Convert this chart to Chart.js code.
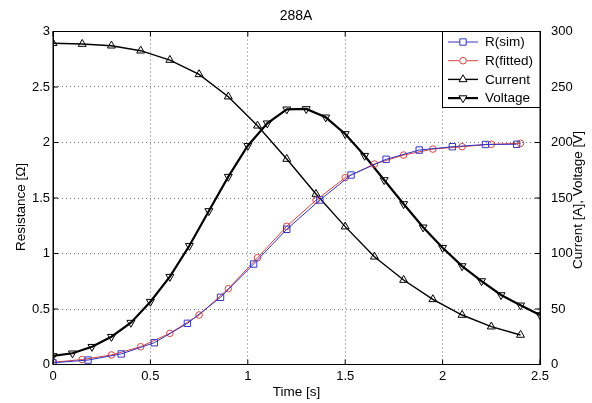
<!DOCTYPE html>
<html>
<head>
<meta charset="utf-8">
<script src="https://cdn.jsdelivr.net/npm/chart.js@4.4.1/dist/chart.umd.min.js"></script>
<style>
  html, body { margin: 0; padding: 0; background: #fff; }
  #wrap { width: 592px; height: 403px; position: relative; }
</style>
</head>
<body>
<div id="wrap"><canvas id="chart" width="592" height="403"></canvas></div>
<script>
// values
const simTime = [0, 0.18, 0.35, 0.52, 0.69, 0.86, 1.03, 1.2, 1.37, 1.53, 1.71, 1.88, 2.05, 2.22, 2.38];
const simR = [0.015, 0.04, 0.095, 0.196, 0.371, 0.605, 0.905, 1.218, 1.482, 1.707, 1.849, 1.932, 1.962, 1.982, 1.984];

const fitTime = [0, 0.15, 0.3, 0.45, 0.6, 0.75, 0.9, 1.05, 1.2, 1.35, 1.5, 1.65, 1.8, 1.95, 2.1, 2.25, 2.4];
const fitR = [0.02, 0.045, 0.086, 0.16, 0.281, 0.446, 0.683, 0.962, 1.245, 1.48, 1.683, 1.806, 1.887, 1.941, 1.962, 1.984, 1.993];

const curTime = [0, 0.15, 0.3, 0.45, 0.6, 0.75, 0.9, 1.05, 1.2, 1.35, 1.5, 1.65, 1.8, 1.95, 2.1, 2.25, 2.4];
const current = [289.4, 288.7, 287.2, 282.7, 274.3, 261.4, 241.3, 215.1, 185.1, 153.6, 124.2, 97.1, 76.1, 58.7, 44.6, 34.1, 26.6];

const voltTime = [0, 0.1, 0.2, 0.3, 0.4, 0.5, 0.6, 0.7, 0.8, 0.9, 1.0, 1.1, 1.2, 1.3, 1.4, 1.5, 1.6, 1.7, 1.8, 1.9, 2.0, 2.1, 2.2, 2.3, 2.4, 2.5];
const voltage = [7.7, 10.1, 16, 25, 37.7, 56.6, 79.1, 107, 138.3, 169.2, 197.1, 217.3, 229.9, 230.2, 222.7, 207.7, 188.1, 166.2, 144.6, 123.6, 105.2, 88.7, 75.2, 62.6, 53.3, 44.6];

const xTicks = [0, 0.5, 1, 1.5, 2, 2.5];
const rTicks = [0, 0.5, 1, 1.5, 2, 2.5, 3];
const ivTicks = [0, 50, 100, 150, 200, 250, 300];

const FONT = "'Liberation Sans', Arial, sans-serif";
const BLUE = '#3535c0';
const RED = '#d54545';
const LEFT_TITLE = 'Resistance [Ω]';
const RIGHT_TITLE = 'Current [A], Voltage [V]';

const pts = (xs, ys) => xs.map((x, i) => ({ x: x, y: ys[i] }));

const seriesStyle = [
  { label: 'R(sim)', color: BLUE, style: 'rect', radius: 4.5, rot: 0, width: 1 },
  { label: 'R(fitted)', color: RED, style: 'circle', radius: 3.3, rot: 0, width: 1 },
  { label: 'Current', color: '#000', style: 'triangle', radius: 4.6, rot: 0, width: 1.4 },
  { label: 'Voltage', color: '#000', style: 'triangle', radius: 4.6, rot: 180, width: 2.2 }
];

function ds(i, data, axis) {
  const s = seriesStyle[i];
  return {
    label: s.label,
    data: data,
    yAxisID: axis,
    borderColor: s.color,
    backgroundColor: '#fff',
    borderWidth: s.width,
    pointStyle: s.style,
    pointRadius: s.radius,
    pointRotation: s.rot,
    pointBorderColor: s.color,
    pointBackgroundColor: 'rgba(255,255,255,0)',
    pointBorderWidth: 1,
    tension: 0,
    fill: false
  };
}

function vText(ctx, text, x, y) {
  ctx.save();
  ctx.translate(x, y);
  ctx.rotate(-Math.PI / 2);
  ctx.font = '13.5px ' + FONT;
  ctx.fillStyle = '#000';
  ctx.textAlign = 'center';
  ctx.textBaseline = 'middle';
  ctx.fillText(text, 0, 0);
  ctx.restore();
}

// box around the plot, inward tick marks, y titles and the legend
const boxPlugin = {
  id: 'box',
  afterDatasetsDraw(chart) {
    const { ctx, chartArea: a, scales } = chart;
    ctx.save();
    ctx.strokeStyle = '#000';
    ctx.lineWidth = 1;
    ctx.strokeRect(a.left, a.top, a.right - a.left, a.bottom - a.top);
    ctx.beginPath();
    xTicks.forEach(v => {
      const px = scales.x.getPixelForValue(v);
      ctx.moveTo(px, a.bottom); ctx.lineTo(px, a.bottom - 5);
      ctx.moveTo(px, a.top); ctx.lineTo(px, a.top + 5);
    });
    rTicks.forEach(v => {
      const py = scales.y.getPixelForValue(v);
      ctx.moveTo(a.left, py); ctx.lineTo(a.left + 5, py);
    });
    ivTicks.forEach(v => {
      const py = scales.y1.getPixelForValue(v);
      ctx.moveTo(a.right, py); ctx.lineTo(a.right - 5, py);
    });
    ctx.stroke();

    // both y titles read bottom to top
    vText(ctx, LEFT_TITLE, 21, 207);
    vText(ctx, RIGHT_TITLE, 578, 200);

    // legend
    const bx = 442.5, by = a.top, bw = a.right - 442.5, bh = 76;
    ctx.fillStyle = '#fff';
    ctx.fillRect(bx, by, bw, bh);
    ctx.strokeRect(bx, by, bw, bh);
    ctx.font = '13.5px ' + FONT;
    ctx.textBaseline = 'middle';
    ctx.textAlign = 'left';
    seriesStyle.forEach((s, i) => {
      const y = by + 10.5 + i * 18.7;
      ctx.strokeStyle = s.color;
      ctx.lineWidth = s.width;
      ctx.beginPath();
      ctx.moveTo(448, y); ctx.lineTo(478, y);
      ctx.stroke();
      ctx.fillStyle = '#fff';
      ctx.lineWidth = 1;
      Chart.helpers.drawPoint(ctx, { pointStyle: s.style, radius: s.radius, rotation: s.rot, borderWidth: 1 }, 463, y);
      ctx.fillStyle = '#000';
      ctx.fillText(s.label, 485, y + 0.5);
    });
    ctx.restore();
  }
};

new Chart(document.getElementById('chart'), {
  type: 'line',
  data: {
    datasets: [
      ds(0, pts(simTime, simR), 'y'),
      ds(1, pts(fitTime, fitR), 'y'),
      ds(2, pts(curTime, current), 'y1'),
      ds(3, pts(voltTime, voltage), 'y1')
    ]
  },
  options: {
    responsive: false,
    animation: false,
    devicePixelRatio: 1,
    layout: { padding: 0 },
    plugins: {
      legend: { display: false },
      tooltip: { enabled: false },
      title: {
        display: true,
        text: '288A',
        color: '#000',
        font: { family: FONT, size: 14, weight: 'normal' },
        padding: { top: 7.6, bottom: 7.1 }
      }
    },
    scales: {
      x: {
        type: 'linear',
        min: 0, max: 2.5,
        afterBuildTicks: s => { s.ticks = xTicks.map(v => ({ value: v })); },
        afterFit: s => { s.height = 38.5; },
        ticks: { color: '#000', font: { family: FONT, size: 13 }, padding: 4, maxRotation: 0, callback: v => String(v) },
        grid: { color: 'rgba(0,0,0,0.55)', drawTicks: false, lineWidth: 1 },
        border: { display: true, color: '#000', dash: [1, 3] },
        title: { display: true, text: 'Time [s]', color: '#000', font: { family: FONT, size: 13.5 }, padding: { top: 0, bottom: 2.5 } }
      },
      y: {
        position: 'left',
        min: 0, max: 3,
        afterBuildTicks: s => { s.ticks = rTicks.map(v => ({ value: v })); },
        afterFit: s => { s.width = 53; },
        ticks: { color: '#000', font: { family: FONT, size: 13 }, padding: 3, callback: v => String(v) },
        grid: { color: 'rgba(0,0,0,0.55)', drawTicks: false, lineWidth: 1 },
        border: { display: true, color: '#000', dash: [1, 3] }
      },
      y1: {
        position: 'right',
        min: 0, max: 300,
        afterBuildTicks: s => { s.ticks = ivTicks.map(v => ({ value: v })); },
        afterFit: s => { s.width = 52; },
        ticks: { color: '#000', font: { family: FONT, size: 13 }, padding: 3, callback: v => String(v) },
        grid: { display: false },
        border: { display: true, color: '#000' }
      }
    }
  },
  plugins: [boxPlugin]
});
</script>
</body>
</html>
